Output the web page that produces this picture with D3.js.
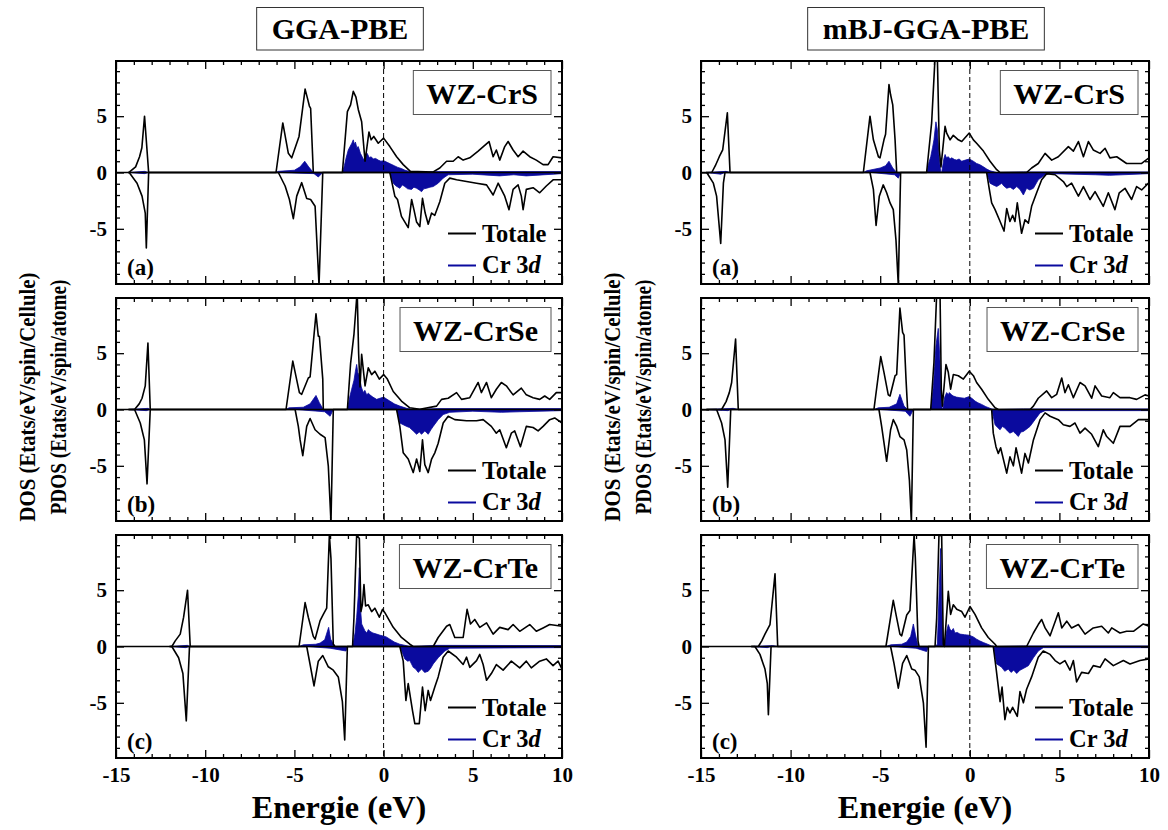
<!DOCTYPE html>
<html>
<head>
<meta charset="utf-8">
<script src="https://cdn.jsdelivr.net/npm/d3@7"></script>
<style>
  body { margin: 0; background: #fff; }
  svg text { font-family: "Liberation Serif", "Times New Roman", serif; font-weight: bold; fill: #000; }
</style>
</head>
<body>
<div id="chart"></div>
<script>
// ---- data: [energy eV, DOS] pairs ----
const methods = ['GGA-PBE', 'mBJ-GGA-PBE'];
const compounds = ['WZ-CrS', 'WZ-CrSe', 'WZ-CrTe'];
const tags = ['(a)', '(b)', '(c)'];
const xTicks = [-15, -10, -5, 0, 5, 10];
const yTicks = [-5, 0, 5];

// GGA-PBE, WZ-CrS
const gga_CrS_totUp = [[-14.3,0],[-14.24,0.05],[-13.9,0.5],[-13.68,1.4],[-13.55,2.2],[-13.4,5.0],[-13.17,0],
  [-6.03,0],[-5.65,4.4],[-5.34,1.7],[-5.15,1.3],[-4.74,3.2],[-4.4,7.4],[-4.27,6.6],[-4.16,5.9],[-4.09,5.7],[-3.94,0],
  [-2.31,0],[-2.03,5.4],[-1.85,6.0],[-1.7,7.2],[-1.55,6.7],[-1.42,5.6],[-1.23,4.5],[-1.04,1.0],[-0.82,3.6],[-0.7,2.9],[-0.55,3.2],[-0.3,2.6],[0,3.05],[0.35,2.3],[0.73,1.4],[1.1,0.7],[1.5,0.1],[2.78,0.05],[3.15,0.4],[3.53,1.0],[3.9,1.0],[4.18,1.4],[4.46,1.1],[4.83,1.3],[5.3,1.9],[5.91,2.75],[6.14,1.4],[6.32,2.0],[6.51,1.1],[6.79,2.3],[6.98,2.75],[7.26,2.0],[7.54,1.4],[7.82,1.9],[8.19,1.4],[8.56,1.1],[8.94,0.7],[9.22,0.7],[9.5,1.4],[10,1.3]];
const gga_CrS_totDn = [[-14.3,0],[-14.24,-0.05],[-13.82,-0.95],[-13.54,-2.1],[-13.36,-3.6],[-13.3,-6.7],[-13.17,0],
  [-5.9,0],[-5.52,-1.2],[-5.28,-2.4],[-5.06,-4.1],[-4.87,-2.1],[-4.59,-0.9],[-4.31,-2.3],[-4.09,-2.4],[-3.84,-3.0],[-3.62,-10],[-3.41,0],
  [0.35,0],[0.63,-2.1],[0.78,-2.4],[1.0,-3.9],[1.38,-4.9],[1.57,-2.4],[1.7,-3.3],[1.85,-4.4],[2.03,-4.8],[2.18,-2.3],[2.33,-3.6],[2.5,-4.6],[2.69,-3.6],[2.87,-3.8],[3.15,-2.6],[3.43,-0.95],[3.71,-0.5],[4.09,-0.65],[4.65,-0.8],[5.21,-0.95],[5.77,-1.1],[6.14,-2.0],[6.42,-0.95],[6.79,-2.1],[7.03,-3.3],[7.26,-1.5],[7.54,-1.1],[7.72,-2.1],[7.82,-3.3],[8.0,-1.5],[8.38,-1.35],[8.75,-1.8],[9.12,-1.2],[9.5,-0.65],[10,-0.65]];
const gga_CrS_crUp = [[-14.3,0],[-13.4,0.1],[-13.17,0],[-6.03,0],[-5.9,0.1],[-5.0,0.2],[-4.68,0.5],[-4.42,1.0],[-4.2,0.5],[-3.94,0],
  [-2.31,0],[-2.2,0.6],[-2.1,1.3],[-1.98,2.0],[-1.88,2.3],[-1.78,2.6],[-1.7,2.9],[-1.64,2.5],[-1.58,2.7],[-1.5,2.2],[-1.42,2.3],[-1.3,1.7],[-1.2,1.4],[-1.12,1.1],[-1.02,1.6],[-0.92,1.7],[-0.8,1.3],[-0.7,1.4],[-0.58,1.2],[-0.45,1.25],[-0.3,1.1],[-0.15,1.0],[0,1.05],[0.2,0.9],[0.4,0.75],[0.6,0.6],[0.8,0.45],[1.0,0.35],[1.2,0.2],[1.47,0.08],[2.0,0],[3,0.08],[10,0.08]];
const gga_CrS_crDn = [[-14.3,0],[-13.4,-0.1],[-13.17,0],[-6.0,0],[-3.9,-0.1],[-3.66,-0.4],[-3.41,0],
  [0.35,0],[0.54,-0.95],[0.7,-1.2],[0.91,-1.4],[1.05,-1.1],[1.19,-1.25],[1.35,-1.45],[1.57,-1.5],[1.7,-1.3],[1.85,-1.4],[2.0,-1.55],[2.13,-1.7],[2.25,-1.45],[2.41,-1.4],[2.6,-1.3],[2.78,-1.25],[3.06,-0.95],[3.34,-0.5],[3.62,-0.2],[5,-0.15],[6.5,-0.3],[7.3,-0.2],[8,-0.3],[10,-0.1]];

// GGA-PBE, WZ-CrSe
const gga_CrSe_totUp = [[-14.3,0],[-13.96,0],[-13.7,0.5],[-13.54,1.0],[-13.36,2.1],[-13.21,5.9],[-13.08,0],
  [-5.47,0],[-5.09,4.3],[-4.72,1.5],[-4.59,1.35],[-4.22,2.8],[-4.12,2.9],[-3.79,8.5],[-3.66,6.5],[-3.6,6.5],[-3.41,2.7],[-3.38,0],
  [-2.03,0],[-1.85,4.1],[-1.66,6.7],[-1.51,9.9],[-1.47,9.8],[-1.4,5.0],[-1.32,2.0],[-1.23,4.9],[-1.04,2.1],[-0.86,3.7],[-0.67,3.1],[-0.49,3.4],[-0.24,2.7],[0,3.1],[0.21,2.7],[0.54,1.6],[1.0,0.75],[1.47,0.15],[2.03,0.02],[2.97,0.3],[3.25,0.9],[3.62,1.0],[4.09,1.5],[4.37,0.9],[4.83,1.05],[5.3,2.4],[5.48,1.5],[5.77,2.4],[6.04,1.05],[6.32,1.8],[6.6,2.4],[6.88,2.1],[7.26,1.3],[7.72,1.9],[8.0,1.3],[8.38,1.05],[8.75,0.9],[9.03,1.2],[9.31,0.9],[9.68,1.5],[10,1.5]];
const gga_CrSe_totDn = [[-14.3,0],[-13.96,0],[-13.64,-1.2],[-13.41,-2.7],[-13.26,-6.6],[-13.08,0],
  [-4.96,0],[-4.78,-1.5],[-4.68,-2.7],[-4.53,-4.1],[-4.31,-1.5],[-4.12,-0.8],[-3.84,-1.8],[-3.56,-2.2],[-3.28,-2.5],[-3.1,-5.0],[-2.95,-10],[-2.82,0],
  [0.73,0],[0.91,-1.5],[1.1,-3.85],[1.38,-4.4],[1.66,-5.6],[1.85,-4.4],[2.03,-5.5],[2.18,-2.7],[2.31,-4.9],[2.5,-5.6],[2.69,-4.4],[2.87,-3.85],[3.06,-3.0],[3.34,-1.2],[3.62,-0.6],[3.99,-0.9],[4.65,-1.0],[5.21,-1.0],[5.58,-0.9],[6.04,-1.5],[6.32,-2.1],[6.51,-1.8],[6.88,-3.4],[7.16,-2.1],[7.35,-1.9],[7.67,-3.3],[8.0,-1.5],[8.38,-1.6],[8.66,-1.9],[8.94,-1.5],[9.31,-0.9],[9.59,-0.75],[10,-1.2]];
const gga_CrSe_crUp = [[-14.3,0],[-13.2,0.1],[-13.08,0],[-5.47,0],[-5.3,0.15],[-4.5,0.2],[-4.12,0.5],[-3.79,1.25],[-3.6,0.6],[-3.38,0],
  [-2.03,0],[-1.9,1.1],[-1.79,1.8],[-1.66,2.6],[-1.58,3.4],[-1.51,4.0],[-1.45,3.3],[-1.36,3.0],[-1.25,2.0],[-1.14,1.5],[-1.05,1.7],[-0.95,1.3],[-0.85,1.45],[-0.77,1.3],[-0.6,1.1],[-0.39,0.9],[-0.2,1.0],[0,1.1],[0.15,0.95],[0.35,0.75],[0.6,0.5],[0.91,0.3],[1.3,0.1],[1.66,0],[3,0.08],[10,0.08]];
const gga_CrSe_crDn = [[-14.3,0],[-13.3,-0.1],[-13.08,0],[-4.9,0],[-3.3,-0.2],[-3.0,-0.6],[-2.82,0],
  [0.73,0],[0.91,-1.2],[1.1,-1.35],[1.29,-1.5],[1.45,-1.6],[1.66,-1.9],[1.85,-2.2],[2.0,-2.0],[2.13,-2.2],[2.31,-1.9],[2.5,-2.2],[2.65,-1.8],[2.78,-1.5],[3.06,-0.9],[3.34,-0.45],[3.71,-0.25],[5,-0.15],[6.6,-0.25],[7.6,-0.2],[10,-0.1]];

// GGA-PBE, WZ-CrTe
const gga_CrTe_totUp = [[-12.0,0],[-11.87,0],[-11.68,0.5],[-11.4,1.1],[-11.21,2.6],[-10.99,5.0],[-10.84,0],
  [-4.74,0],[-4.4,3.9],[-4.22,2.6],[-3.94,0.9],[-3.84,0.65],[-3.56,2.3],[-3.38,2.85],[-3.19,3.4],[-3.04,9.9],[-2.95,7.8],[-2.82,0.2],[-2.72,0],
  [-1.74,0],[-1.66,2.6],[-1.51,9.9],[-1.36,9.6],[-1.27,3.1],[-1.19,3.7],[-1.1,5.5],[-1.01,3.6],[-0.86,3.7],[-0.67,3.1],[-0.49,3.4],[-0.24,2.6],[-0.06,3.3],[0.07,3.0],[0.54,1.7],[1.0,0.8],[1.47,0.2],[1.66,0],[2.78,0],[3.06,0.8],[3.53,1.8],[3.71,1.95],[3.99,0.8],[4.46,0.8],[4.68,3.3],[4.87,2.0],[5.11,2.4],[5.39,1.7],[5.77,2.1],[6.14,1.1],[6.51,1.7],[6.98,1.5],[7.26,1.95],[7.63,1.35],[8.19,1.95],[8.56,1.35],[8.94,1.65],[9.31,1.95],[10,1.8]];
const gga_CrTe_totDn = [[-12,0],[-11.87,0],[-11.49,-1.0],[-11.25,-2.4],[-11.06,-6.6],[-10.88,0],
  [-4.31,0],[-4.12,-1.6],[-3.9,-3.5],[-3.66,-1.3],[-3.41,-0.8],[-3.1,-1.8],[-2.82,-2.1],[-2.54,-2.7],[-2.31,-4.9],[-2.18,-8.3],[-2.03,0],
  [0.91,0],[1.1,-1.3],[1.25,-4.8],[1.38,-3.3],[1.62,-5.7],[1.75,-6.85],[2.0,-6.85],[2.18,-3.6],[2.33,-5.7],[2.5,-3.9],[2.63,-4.8],[2.87,-3.6],[3.06,-2.7],[3.34,-0.95],[3.62,-0.4],[4.09,-0.95],[4.46,-1.6],[4.65,-0.95],[4.83,-1.85],[5.21,-1.25],[5.39,-0.7],[5.58,-1.6],[5.77,-3.0],[6.04,-2.4],[6.32,-1.6],[6.7,-2.1],[7.16,-1.3],[7.63,-1.9],[8.0,-1.3],[8.28,-1.9],[8.75,-1.3],[9.12,-1.1],[9.5,-1.7],[9.78,-1.3],[10,-2.0]];
const gga_CrTe_crUp = [[-12,0],[-11.0,0.1],[-10.84,0],[-4.74,0],[-4.5,0.15],[-3.8,0.2],[-3.56,0.3],[-3.3,0.6],[-3.08,1.7],[-2.97,0.65],[-2.72,0],
  [-1.74,0],[-1.6,1.2],[-1.51,2.6],[-1.42,4.5],[-1.36,7.0],[-1.3,3.5],[-1.23,2.0],[-1.14,1.7],[-1.05,1.4],[-0.95,1.2],[-0.85,1.5],[-0.77,1.35],[-0.6,1.2],[-0.39,1.1],[-0.2,1.0],[-0.06,0.95],[0.15,0.85],[0.35,0.65],[0.6,0.4],[0.91,0.2],[1.5,0],[3,0.1],[10,0.08]];
const gga_CrTe_crDn = [[-12,0],[-11.1,-0.1],[-10.88,0],[-4.3,0],[-3.0,-0.15],[-2.11,-0.4],[-2.03,0],
  [0.91,0],[1.19,-1.1],[1.35,-1.3],[1.47,-1.25],[1.66,-1.85],[1.8,-2.0],[1.94,-2.3],[2.13,-2.0],[2.3,-2.3],[2.5,-2.2],[2.65,-1.9],[2.78,-1.55],[3.06,-1.0],[3.43,-0.4],[3.71,-0.15],[10,-0.1]];

// mBJ-GGA-PBE, WZ-CrS
const mbj_CrS_totUp = [[-14.7,0],[-14.4,0],[-14.2,0.6],[-13.98,1.4],[-13.79,2.0],[-13.53,5.3],[-13.38,0],
  [-5.94,0],[-5.57,5.0],[-5.38,2.9],[-5.1,1.4],[-5.01,1.3],[-4.79,2.9],[-4.7,3.4],[-4.51,7.8],[-4.42,6.9],[-4.3,6.0],[-4.17,2.9],[-4.08,0],
  [-2.41,0],[-2.13,4.4],[-1.94,10.2],[-1.81,10.2],[-1.7,2.0],[-1.61,0.5],[-1.38,4.1],[-1.29,3.5],[-1.1,2.9],[-0.92,3.3],[-0.64,2.9],[-0.45,2.75],[-0.03,3.5],[0.2,2.9],[0.38,2.6],[0.76,1.9],[1.13,1.0],[1.5,0.25],[1.69,0],[3.17,0],[3.45,0.4],[3.82,0.8],[4.2,1.7],[4.57,1.1],[4.94,1.4],[5.5,2.3],[5.78,1.9],[6.06,2.75],[6.34,1.4],[6.62,2.75],[6.89,2.0],[7.27,1.7],[7.55,2.15],[7.82,1.3],[8.2,1.4],[8.75,0.8],[9.59,0.8],[10,1.3]];
const mbj_CrS_totDn = [[-14.7,0],[-14.68,0],[-14.31,-0.95],[-14.13,-2.1],[-13.9,-6.3],[-13.75,-0.95],[-13.66,0],
  [-5.57,0],[-5.38,-1.5],[-5.23,-4.7],[-5.05,-2.1],[-4.83,-1.1],[-4.64,-1.8],[-4.45,-2.7],[-4.27,-3.3],[-4.12,-6.0],[-3.99,-10],[-3.86,0],
  [0.94,0],[1.09,-1.5],[1.22,-2.7],[1.41,-3.3],[1.65,-4.2],[1.91,-5.2],[2.06,-3.2],[2.24,-4.35],[2.39,-3.8],[2.52,-4.35],[2.65,-2.7],[2.89,-5.4],[3.08,-4.2],[3.27,-4.5],[3.45,-3.0],[3.73,-1.8],[4.01,-0.65],[4.29,-0.1],[4.76,-0.2],[5.22,-0.8],[5.41,-1.25],[5.68,-0.95],[6.06,-2.1],[6.34,-1.25],[6.71,-2.4],[6.99,-1.7],[7.45,-3.0],[7.73,-1.8],[8.1,-3.3],[8.34,-1.8],[8.66,-1.4],[9.03,-2.4],[9.31,-1.25],[9.59,-1.55],[10,-0.9]];
const mbj_CrS_crUp = [[-14.7,0],[-13.6,0.1],[-13.38,0],[-5.94,0],[-5.76,0.15],[-5.0,0.4],[-4.7,0.6],[-4.51,1.0],[-4.3,0.4],[-4.08,0],
  [-2.41,0],[-2.3,0.8],[-2.18,1.4],[-2.08,2.2],[-2.0,2.9],[-1.89,4.5],[-1.81,3.8],[-1.72,1.5],[-1.63,0.1],[-1.57,0],[-1.45,1.2],[-1.38,1.6],[-1.3,1.3],[-1.2,1.4],[-1.1,1.2],[-1.01,1.3],[-0.85,1.15],[-0.73,1.1],[-0.6,1.2],[-0.45,1.0],[-0.25,1.1],[-0.03,1.2],[0.2,1.0],[0.38,0.8],[0.55,0.7],[0.76,0.5],[0.95,0.3],[1.13,0.15],[1.5,0],[3,0.05],[10,0.05]];
const mbj_CrS_crDn = [[-14.7,0],[-13.9,-0.15],[-13.66,0],[-5.5,0],[-4.2,-0.2],[-3.99,-0.5],[-3.86,0],
  [0.94,0],[1.13,-0.95],[1.3,-1.1],[1.5,-1.25],[1.65,-1.1],[1.78,-0.95],[1.9,-1.2],[2.06,-1.4],[2.25,-1.3],[2.43,-1.5],[2.62,-1.25],[2.8,-1.5],[2.99,-2.0],[3.17,-1.4],[3.35,-1.55],[3.55,-1.4],[3.82,-0.65],[4.2,-0.2],[4.48,-0.1],[7.0,-0.2],[7.8,-0.25],[10,-0.1]];

// mBJ-GGA-PBE, WZ-CrSe
const mbj_CrSe_totUp = [[-14.7,0],[-13.85,0],[-13.6,0.7],[-13.42,1.5],[-13.29,2.4],[-13.07,6.25],[-12.92,0],
  [-5.35,0],[-4.97,4.7],[-4.79,3.3],[-4.55,1.3],[-4.45,1.2],[-4.17,3.0],[-4.08,3.1],[-3.9,9.0],[-3.75,6.85],[-3.67,6.6],[-3.56,2.7],[-3.47,0],
  [-2.18,0],[-2.0,4.2],[-1.85,10.2],[-1.66,10.2],[-1.59,1.8],[-1.53,0.3],[-1.33,4.0],[-1.2,3.3],[-1.07,1.8],[-0.92,3.1],[-0.64,3.0],[-0.36,2.7],[-0.03,3.4],[0.2,3.0],[0.38,2.4],[0.66,1.8],[1.03,0.9],[1.41,0.15],[1.6,0],[3.36,0],[3.55,0.3],[3.82,1.0],[4.29,1.65],[4.57,1.05],[4.85,1.35],[5.13,2.8],[5.31,1.5],[5.5,2.2],[5.78,1.05],[6.15,2.4],[6.43,2.1],[6.8,1.0],[6.99,2.1],[7.36,1.2],[7.82,1.05],[8.01,1.5],[8.38,1.05],[8.94,1.05],[9.31,0.9],[9.78,1.3],[10,1.2]];
const mbj_CrSe_totDn = [[-14.7,0],[-14.13,0],[-13.85,-1.2],[-13.66,-2.7],[-13.51,-6.9],[-13.34,0],
  [-5.07,0],[-4.92,-1.5],[-4.64,-4.6],[-4.42,-1.8],[-4.27,-0.9],[-4.08,-1.5],[-3.9,-2.4],[-3.67,-2.7],[-3.52,-3.6],[-3.37,-6.3],[-3.26,-10],[-3.15,0],
  [1.22,0],[1.31,-2.1],[1.46,-3.3],[1.59,-3.9],[1.72,-3.4],[2.06,-5.65],[2.24,-4.2],[2.43,-5.0],[2.58,-3.4],[2.89,-5.65],[3.08,-3.9],[3.27,-4.75],[3.55,-2.7],[3.92,-0.9],[4.2,-0.3],[4.48,-0.6],[4.94,-0.9],[5.22,-1.35],[5.59,-1.5],[5.87,-1.2],[6.15,-2.1],[6.43,-1.65],[6.8,-2.2],[7.17,-3.3],[7.45,-1.8],[7.64,-2.4],[8.01,-3.0],[8.38,-1.5],[8.94,-1.5],[9.41,-0.9],[10,-0.9]];
const mbj_CrSe_crUp = [[-14.7,0],[-13.2,0.1],[-12.92,0],[-5.35,0],[-5.1,0.15],[-4.5,0.2],[-4.08,0.5],[-3.9,1.35],[-3.67,0.3],[-3.47,0],
  [-2.18,0],[-2.1,1.0],[-2.03,2.1],[-1.96,3.8],[-1.89,5.65],[-1.76,7.2],[-1.66,4.2],[-1.6,1.5],[-1.55,0.15],[-1.51,0],[-1.4,1.1],[-1.29,1.5],[-1.2,1.3],[-1.14,1.5],[-1.02,1.3],[-0.92,1.2],[-0.75,1.1],[-0.55,1.05],[-0.3,1.0],[-0.03,1.15],[0.15,0.95],[0.29,0.75],[0.45,0.6],[0.66,0.45],[0.9,0.25],[1.22,0.05],[1.6,0],[3,0.05],[10,0.05]];
const mbj_CrSe_crDn = [[-14.7,0],[-13.5,-0.1],[-13.34,0],[-5,0],[-3.6,-0.15],[-3.34,-0.6],[-3.15,0],
  [1.22,0],[1.41,-1.35],[1.55,-1.6],[1.69,-1.8],[1.82,-1.5],[1.96,-1.65],[2.1,-1.9],[2.24,-2.1],[2.43,-1.95],[2.58,-2.2],[2.71,-2.4],[2.85,-2.0],[2.99,-1.95],[3.2,-1.7],[3.36,-1.5],[3.64,-0.9],[3.92,-0.3],[4.2,-0.1],[10,-0.1]];

// mBJ-GGA-PBE, WZ-CrTe
const mbj_CrTe_totUp = [[-12.2,0],[-11.8,0],[-11.61,0.5],[-11.43,1.1],[-11.15,1.95],[-10.87,6.45],[-10.72,0],
  [-4.68,0],[-4.27,4.1],[-4.12,2.85],[-3.9,1.1],[-3.8,0.95],[-3.52,2.8],[-3.34,3.2],[-3.11,9.9],[-3.04,7.9],[-2.89,0.5],[-2.83,0],
  [-1.94,0],[-1.85,2.5],[-1.72,9.9],[-1.57,9.8],[-1.48,0.2],[-1.42,0],[-1.2,4.9],[-1.07,2.85],[-0.92,3.7],[-0.73,3.3],[-0.45,3.1],[-0.27,2.6],[0.01,3.55],[0.29,2.85],[0.66,1.65],[1.03,0.8],[1.41,0.2],[1.5,0],[3.17,0],[3.55,1.2],[3.82,1.95],[4.01,2.4],[4.2,1.65],[4.48,0.95],[4.94,3.0],[5.13,1.65],[5.41,2.25],[5.68,1.65],[6.06,1.95],[6.43,1.1],[6.89,1.65],[7.36,1.8],[7.73,1.2],[7.92,1.65],[8.38,1.2],[8.75,1.35],[9.13,1.35],[9.68,2.0],[10,1.8]];
const mbj_CrTe_totDn = [[-12.2,0],[-11.99,0],[-11.71,-0.7],[-11.43,-2.0],[-11.3,-3.3],[-11.24,-6.05],[-11.09,0],
  [-4.42,0],[-4.23,-1.5],[-3.99,-3.7],[-3.75,-1.5],[-3.52,-0.8],[-3.24,-2.0],[-3.06,-2.1],[-2.82,-2.7],[-2.59,-5.0],[-2.44,-8.95],[-2.31,0],
  [1.31,0],[1.46,-1.85],[1.69,-4.9],[1.8,-3.6],[1.96,-6.5],[2.09,-5.4],[2.24,-5.9],[2.39,-5.4],[2.65,-6.2],[2.8,-4.0],[2.99,-5.0],[3.17,-3.8],[3.45,-2.7],[3.82,-0.95],[4.1,-0.4],[4.48,-0.7],[4.76,-1.25],[5.03,-1.55],[5.31,-1.25],[5.59,-2.1],[5.78,-1.25],[5.96,-3.15],[6.24,-2.3],[6.62,-2.4],[6.89,-1.7],[7.27,-1.85],[7.55,-1.1],[8.01,-1.7],[8.57,-1.25],[8.94,-1.55],[9.5,-1.25],[10,-1.1]];
const mbj_CrTe_crUp = [[-12.2,0],[-11.0,0.08],[-10.72,0],[-4.68,0],[-4.4,0.15],[-3.8,0.2],[-3.52,0.4],[-3.3,0.9],[-3.15,2.0],[-3.04,1.1],[-2.89,0.05],[-2.83,0],
  [-1.94,0],[-1.81,0.2],[-1.7,5.4],[-1.63,8.7],[-1.55,2.5],[-1.48,0.05],[-1.42,0],[-1.3,1.3],[-1.2,1.95],[-1.1,1.5],[-1.01,1.4],[-0.92,1.6],[-0.83,1.2],[-0.7,1.25],[-0.55,1.1],[-0.3,1.05],[-0.03,1.0],[0.2,0.85],[0.38,0.65],[0.55,0.5],[0.76,0.35],[1.0,0.2],[1.22,0.05],[1.5,0],[3,0.05],[10,0.05]];
const mbj_CrTe_crDn = [[-12.2,0],[-11.3,-0.1],[-11.09,0],[-4.4,0],[-3.0,-0.15],[-2.41,-0.45],[-2.31,0],
  [1.31,0],[1.5,-1.55],[1.65,-1.7],[1.78,-1.85],[1.95,-2.2],[2.15,-2.0],[2.3,-2.3],[2.45,-2.1],[2.62,-2.4],[2.8,-2.1],[2.99,-1.95],[3.27,-1.7],[3.55,-1.0],[3.82,-0.4],[4.1,-0.1],[10,-0.1]];

const dosTable = [
  [ {totUp: gga_CrS_totUp, totDn: gga_CrS_totDn, crUp: gga_CrS_crUp, crDn: gga_CrS_crDn},
    {totUp: gga_CrSe_totUp, totDn: gga_CrSe_totDn, crUp: gga_CrSe_crUp, crDn: gga_CrSe_crDn},
    {totUp: gga_CrTe_totUp, totDn: gga_CrTe_totDn, crUp: gga_CrTe_crUp, crDn: gga_CrTe_crDn} ],
  [ {totUp: mbj_CrS_totUp, totDn: mbj_CrS_totDn, crUp: mbj_CrS_crUp, crDn: mbj_CrS_crDn},
    {totUp: mbj_CrSe_totUp, totDn: mbj_CrSe_totDn, crUp: mbj_CrSe_crUp, crDn: mbj_CrSe_crDn},
    {totUp: mbj_CrTe_totUp, totDn: mbj_CrTe_totDn, crUp: mbj_CrTe_crUp, crDn: mbj_CrTe_crDn} ]
];

// ---- layout ----
const W = 1168, H = 830;
const cols = [{ x0: 116, x1: 562 }, { x0: 701, x1: 1149 }];
const rowTops = [61, 298, 535];
const panelH = 223;
const BLUE = '#0a0a9e';
const SERIF = '"Liberation Serif", "Times New Roman", serif';

const svg = d3.select('#chart').append('svg')
  .attr('width', W).attr('height', H);

const defs = svg.append('defs');

// widen a text a little, the source figure is horizontally stretched
function widen(sel, k) {
  const n = sel.node();
  sel.attr('textLength', n.getComputedTextLength() * k).attr('lengthAdjust', 'spacingAndGlyphs');
  return n.getComputedTextLength() * k;
}

cols.forEach((c, ci) => {
  const cx = (c.x0 + c.x1) / 2;

  // method title in a box
  const tg = svg.append('g');
  const tt = tg.append('text')
    .attr('x', cx + 1).attr('y', 39)
    .attr('text-anchor', 'middle')
    .style('font-size', '30px')
    .text(methods[ci]);
  const tw = tt.node().getComputedTextLength();
  tg.insert('rect', 'text')
    .attr('x', cx + 1 - tw / 2 - 15).attr('y', 7.5)
    .attr('width', tw + 30).attr('height', 42.5)
    .attr('fill', '#fff').attr('stroke', '#333').attr('stroke-width', 1);

  // y label (two lines)
  const ly = 397;
  [['DOS (Etats/eV/spin/Cellule)', c.x0 - 81, 249], ['PDOS (Etats/eV/spin/atome)', c.x0 - 50, 235]].forEach(([s, bx, len]) => {
    svg.append('text')
      .attr('transform', `translate(${bx},${ly}) rotate(-90)`)
      .attr('text-anchor', 'middle')
      .style('font-size', '24px')
      .attr('textLength', len)
      .attr('lengthAdjust', 'spacingAndGlyphs')
      .text(s);
  });

  // x label
  const xl = svg.append('text')
    .attr('x', cx).attr('y', 818)
    .attr('text-anchor', 'middle')
    .style('font-size', '31px')
    .text('Energie (eV)');
  widen(xl, 1.04);

  rowTops.forEach((top, ri) => {
    const bottom = top + panelH;
    const x = d3.scaleLinear().domain([-15, 10]).range([c.x0, c.x1]);
    const y = d3.scaleLinear().domain([-9.9, 9.9]).range([bottom, top]);
    const d = dosTable[ci][ri];
    const g = svg.append('g').attr('class', 'panel');

    const clipId = `clip-${ci}-${ri}`;
    defs.append('clipPath').attr('id', clipId)
      .append('rect').attr('x', c.x0).attr('y', top)
      .attr('width', c.x1 - c.x0).attr('height', panelH);

    const plot = g.append('g').attr('clip-path', `url(#${clipId})`);

    const area = d3.area().x(p => x(p[0])).y0(y(0)).y1(p => y(p[1]));
    const line = d3.line().x(p => x(p[0])).y(p => y(p[1]));

    plot.append('path').attr('d', area(d.crUp)).attr('fill', BLUE);
    plot.append('path').attr('d', area(d.crDn)).attr('fill', BLUE);
    plot.append('path').attr('d', line(d.crUp)).attr('fill', 'none').attr('stroke', BLUE).attr('stroke-width', 0.8);
    plot.append('path').attr('d', line(d.crDn)).attr('fill', 'none').attr('stroke', BLUE).attr('stroke-width', 0.8);

    plot.append('path').attr('d', line(d.totUp))
      .attr('fill', 'none').attr('stroke', '#000').attr('stroke-width', 1.6).attr('stroke-linejoin', 'round');
    plot.append('path').attr('d', line(d.totDn))
      .attr('fill', 'none').attr('stroke', '#000').attr('stroke-width', 1.6).attr('stroke-linejoin', 'round');

    // zero line and Fermi level
    g.append('line')
      .attr('x1', c.x0).attr('x2', c.x1).attr('y1', y(0)).attr('y2', y(0))
      .attr('stroke', '#000').attr('stroke-width', 1.6);
    g.append('line')
      .attr('x1', x(0)).attr('x2', x(0)).attr('y1', top).attr('y2', bottom)
      .attr('stroke', '#000').attr('stroke-width', 1).attr('stroke-dasharray', '5,3');

    // axes: inward ticks on all four sides
    const minorX = d3.range(-14, 10, 1).filter(v => v % 5 !== 0);
    const minorY = d3.range(-9, 10, 1).filter(v => v % 5 !== 0);
    const fmt = v => String(v);

    const axes = [
      g.append('g').attr('transform', `translate(0,${bottom})`)
        .call(d3.axisBottom(x).tickValues(xTicks).tickSize(-8).tickPadding(9).tickFormat(ri === 2 ? fmt : () => '')),
      g.append('g').attr('transform', `translate(0,${bottom})`)
        .call(d3.axisBottom(x).tickValues(minorX).tickSize(-4).tickFormat(() => '')),
      g.append('g').attr('transform', `translate(0,${top})`)
        .call(d3.axisTop(x).tickValues(xTicks).tickSize(-8).tickFormat(() => '')),
      g.append('g').attr('transform', `translate(0,${top})`)
        .call(d3.axisTop(x).tickValues(minorX).tickSize(-4).tickFormat(() => '')),
      g.append('g').attr('transform', `translate(${c.x0},0)`)
        .call(d3.axisLeft(y).tickValues(yTicks).tickSize(-8).tickPadding(9).tickFormat(fmt)),
      g.append('g').attr('transform', `translate(${c.x0},0)`)
        .call(d3.axisLeft(y).tickValues(minorY).tickSize(-4).tickFormat(() => '')),
      g.append('g').attr('transform', `translate(${c.x1},0)`)
        .call(d3.axisRight(y).tickValues(yTicks).tickSize(-8).tickFormat(() => '')),
      g.append('g').attr('transform', `translate(${c.x1},0)`)
        .call(d3.axisRight(y).tickValues(minorY).tickSize(-4).tickFormat(() => ''))
    ];
    axes.forEach(a => {
      a.attr('font-family', SERIF).attr('font-size', 21);
      a.select('.domain').remove();
      a.selectAll('.tick line').attr('stroke', '#000').attr('stroke-width', 1.3);
      a.selectAll('.tick text')
        .attr('fill', '#000')
        .style('font-size', '21px');
    });

    g.append('rect')
      .attr('x', c.x0).attr('y', top)
      .attr('width', c.x1 - c.x0).attr('height', panelH)
      .attr('fill', 'none').attr('stroke', '#000').attr('stroke-width', 2);

    // compound name box
    const ng = g.append('g');
    const nt = ng.append('text')
      .attr('y', top + 42.5)
      .attr('text-anchor', 'middle')
      .style('font-size', '30px')
      .text(compounds[ri]);
    const nw = nt.node().getComputedTextLength();
    const bw = nw + 26;
    nt.attr('x', c.x1 - 11 - bw / 2);
    ng.insert('rect', 'text')
      .attr('x', c.x1 - 11 - bw).attr('y', top + 9.5)
      .attr('width', bw).attr('height', 44)
      .attr('fill', '#fff').attr('stroke', '#555').attr('stroke-width', 1);

    // legend
    const lx = c.x1 - 114;
    g.append('line').attr('x1', lx).attr('x2', lx + 28)
      .attr('y1', bottom - 50.5).attr('y2', bottom - 50.5)
      .attr('stroke', '#000').attr('stroke-width', 2);
    g.append('text').attr('x', lx + 34).attr('y', bottom - 42.5)
      .style('font-size', '24.5px').text('Totale');
    g.append('line').attr('x1', lx).attr('x2', lx + 28)
      .attr('y1', bottom - 18.5).attr('y2', bottom - 18.5)
      .attr('stroke', BLUE).attr('stroke-width', 2);
    const ct = g.append('text').attr('x', lx + 34).attr('y', bottom - 11)
      .style('font-size', '24.5px');
    ct.append('tspan').text('Cr 3');
    ct.append('tspan').style('font-style', 'italic').text('d');

    // panel tag
    g.append('text').attr('x', c.x0 + 11).attr('y', bottom - 9)
      .style('font-size', '23px').text(tags[ri]);
  });
});
</script>
</body>
</html>
